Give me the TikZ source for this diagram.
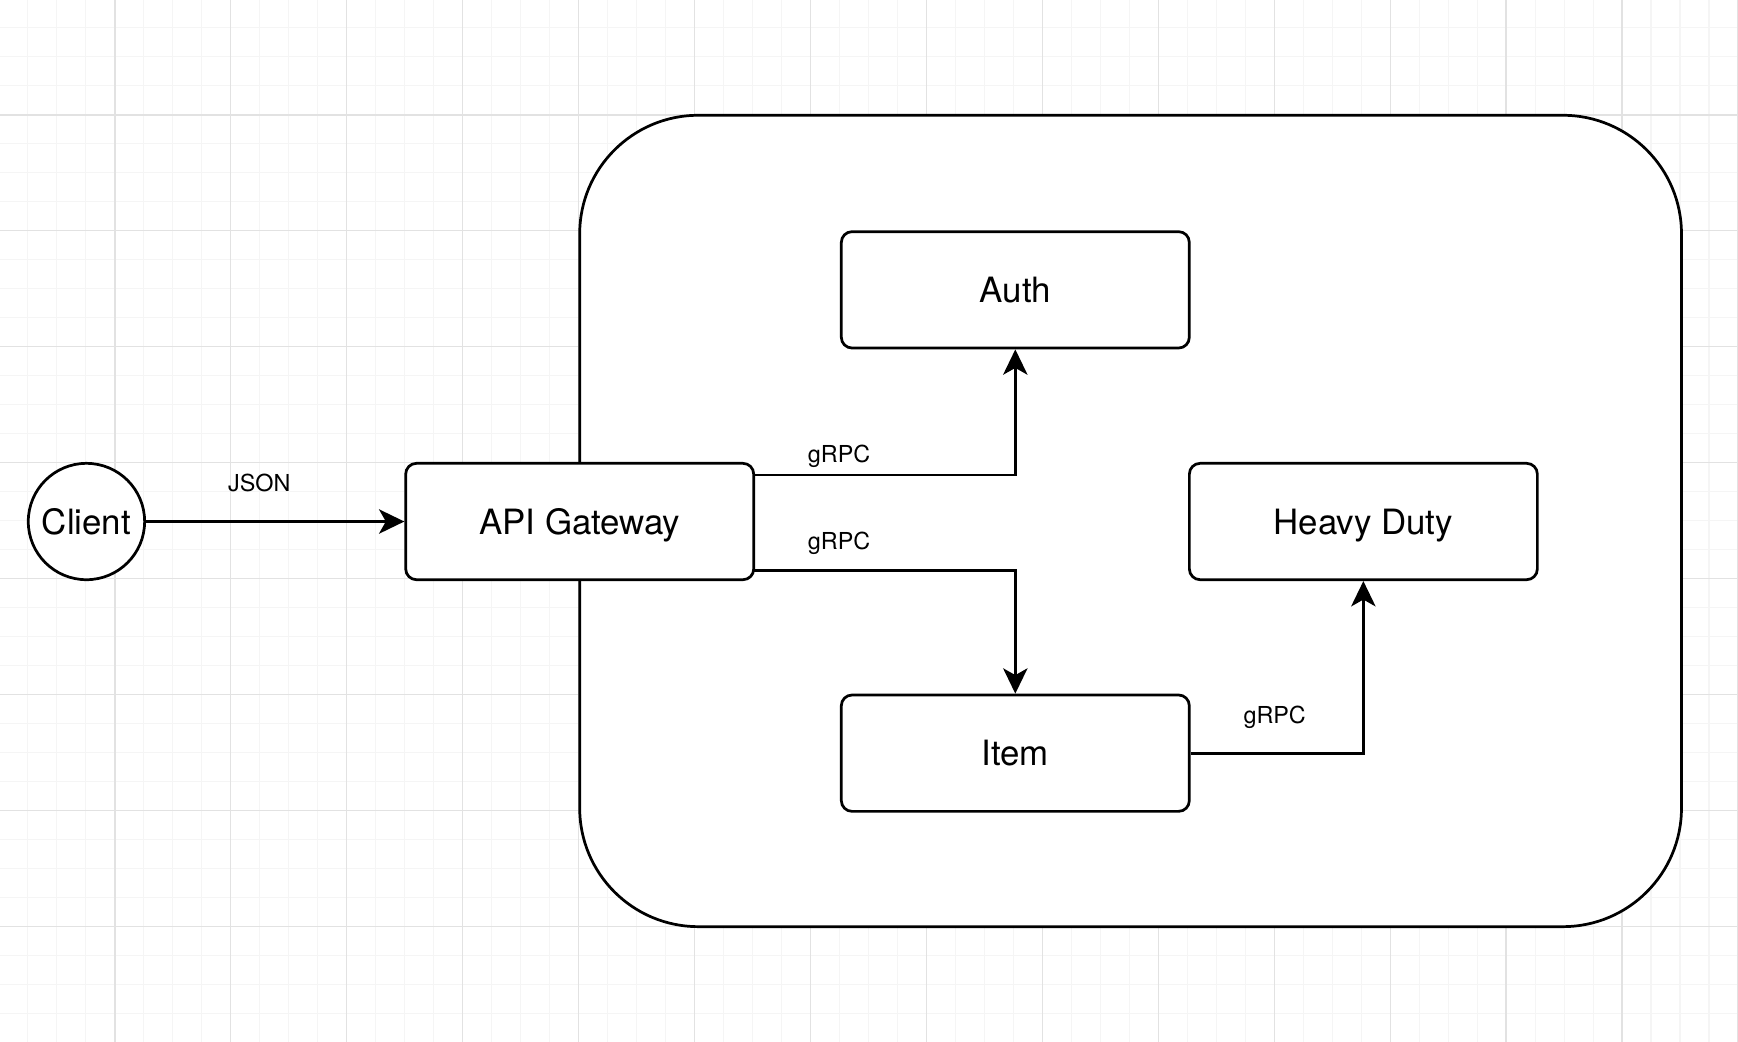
\documentclass[tikz,border=0pt]{standalone}
\usepackage{fontspec}
\setmainfont{TeX Gyre Heros}
\usetikzlibrary{arrows.meta}
\definecolor{minorgrid}{HTML}{F5F5F5}
\definecolor{majorgrid}{HTML}{E2E2E2}
\tikzset{
  box/.style={draw=black, line width=1.4pt, fill=white, rounded corners=5.5pt,
    minimum width=6.28cm, minimum height=2.1cm, inner sep=0pt, text height=13pt, text depth=0pt,
    font=\fontsize{17.9}{20}\selectfont},
  circ/.style={draw=black, line width=1.4pt, fill=white, circle, minimum size=2.1cm,
    inner sep=0pt, text height=13pt, text depth=0pt, font=\fontsize{17.9}{20}\selectfont},
  conn/.style={draw=black, line width=1.4pt, -{Stealth[length=13pt, width=12.5pt, inset=3.5pt]}},
  lbl/.style={inner sep=0pt, anchor=base, font=\fontsize{12}{14}\selectfont},
  container/.style={draw=black, line width=1.4pt, fill=white, rounded corners=2.14cm}
}
\begin{document}
\begin{tikzpicture}[x=0.02cm, y=-0.02cm]
\useasboundingbox (0,0) rectangle (1568,940);
\fill[white] (0,0) rectangle (1568,940);
% minor grid
\foreach \k in {0,...,60} {
  \draw[minorgrid, line width=0.6pt] ({\k*26.15-1},0) -- ({\k*26.15-1},940);
}
\foreach \k in {0,...,36} {
  \draw[minorgrid, line width=0.6pt] (0,{\k*26.15-1}) -- (1568,{\k*26.15-1});
}
% major grid
\foreach \k in {0,...,15} {
  \draw[majorgrid, line width=0.7pt] ({\k*104.6-1},0) -- ({\k*104.6-1},940);
}
\foreach \k in {0,...,9} {
  \draw[majorgrid, line width=0.7pt] (0,{\k*104.6-1}) -- (1568,{\k*104.6-1});
}
% container
\draw[container] (523,104) rectangle (1517,836);
% nodes
\node[circ] (client) at (78,470.5) {Client};
\node[box] (api) at (523,470.5) {API Gateway};
\node[box] (auth) at (916,261.5) {Auth};
\node[box] (heavy) at (1230,470.5) {Heavy Duty};
\node[box] (item) at (916,679.5) {Item};
% connectors
\draw[conn] (client.east) -- (api.west);
\coordinate (a1) at (680,428.5);
\coordinate (a2) at (680,515);
\draw[conn] (a1) -- (a1 -| auth.south) -- (auth.south);
\draw[conn] (a2) -- (a2 -| item.north) -- (item.north);
\draw[conn] (item.east) -- (item.east -| heavy.south) -- (heavy.south);
% labels
\node[lbl] (l1) at (234,443.5) {JSON};
\node[lbl] (l2) at (757,417.5) {gRPC};
\node[lbl] (l3) at (757,495.5) {gRPC};
\node[lbl] (l4) at (1150,652.5) {gRPC};
\end{tikzpicture}
\end{document}
